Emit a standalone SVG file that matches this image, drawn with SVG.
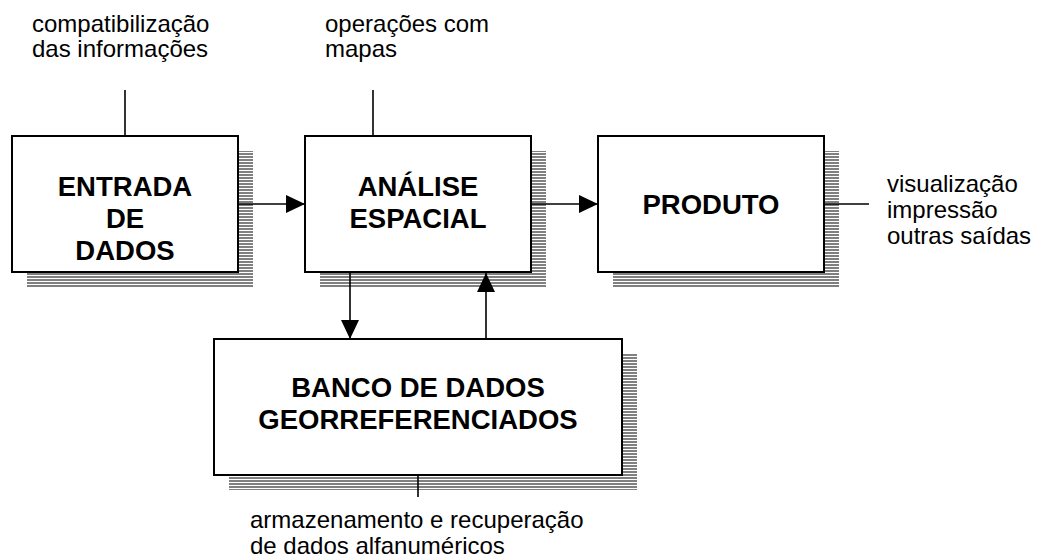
<svg xmlns="http://www.w3.org/2000/svg" width="1038" height="559" viewBox="0 0 1038 559">
<style>
.box{fill:#fff;stroke:#000;stroke-width:2}
.shadow{fill:url(#stripes)}
.lbl{font-family:"Liberation Sans",Arial,sans-serif;font-size:24px;fill:#000}
.ttl{font-family:"Liberation Sans",Arial,sans-serif;font-size:27.5px;font-weight:bold;fill:#000;text-anchor:middle}
.con{stroke:#000;stroke-width:1.6;fill:none}
</style>
<defs>
<pattern id="stripes" patternUnits="userSpaceOnUse" width="10" height="3">
<rect x="0" y="0" width="10" height="2" fill="#808080"/>
</pattern>
<marker id="arr" markerUnits="userSpaceOnUse" markerWidth="19" markerHeight="18" refX="19" refY="9" orient="auto">
<path d="M0,0 L19,9 L0,18 Z" fill="#000"/>
</marker>
</defs>
<rect width="1038" height="559" fill="#fff"/>
<g id="entrada">
<rect class="shadow" x="27" y="151" width="226" height="136"/>
<rect class="box" x="12" y="136" width="226" height="136"/>
<text class="ttl" x="125" y="196">ENTRADA</text>
<text class="ttl" x="125" y="228">DE</text>
<text class="ttl" x="125" y="260">DADOS</text>
</g>
<g id="analise">
<rect class="shadow" x="320" y="151" width="226" height="136"/>
<rect class="box" x="305" y="136" width="226" height="136"/>
<text class="ttl" x="418" y="196">ANÁLISE</text>
<text class="ttl" x="418" y="228">ESPACIAL</text>
</g>
<g id="produto">
<rect class="shadow" x="613" y="151" width="226" height="136"/>
<rect class="box" x="598" y="136" width="226" height="136"/>
<text class="ttl" x="711" y="214">PRODUTO</text>
</g>
<g id="banco">
<rect class="shadow" x="229" y="354" width="408" height="136"/>
<rect class="box" x="214" y="339" width="408" height="136"/>
<text class="ttl" x="418" y="397">BANCO DE DADOS</text>
<text class="ttl" x="418" y="429">GEORREFERENCIADOS</text>
</g>
<g id="connectors">
<line class="con" x1="125" y1="90" x2="125" y2="136"/>
<line class="con" x1="373" y1="90" x2="373" y2="136"/>
<line class="con" x1="238" y1="204" x2="305" y2="204" marker-end="url(#arr)"/>
<line class="con" x1="531" y1="204" x2="598" y2="204" marker-end="url(#arr)"/>
<line class="con" x1="824" y1="204" x2="869" y2="204"/>
<line class="con" x1="350" y1="272" x2="350" y2="339" marker-end="url(#arr)"/>
<line class="con" x1="486" y1="339" x2="486" y2="273" marker-end="url(#arr)"/>
<line class="con" x1="418" y1="475" x2="418" y2="497"/>
</g>
<g id="labels">
<text class="lbl" x="32" y="32">compatibilização</text>
<text class="lbl" x="32" y="57">das informações</text>
<text class="lbl" x="325" y="32">operações com</text>
<text class="lbl" x="325" y="57">mapas</text>
<text class="lbl" x="887" y="192">visualização</text>
<text class="lbl" x="887" y="218">impressão</text>
<text class="lbl" x="887" y="244">outras saídas</text>
<text class="lbl" x="250" y="528">armazenamento e recuperação</text>
<text class="lbl" x="250" y="554">de dados alfanuméricos</text>
</g>
</svg>
